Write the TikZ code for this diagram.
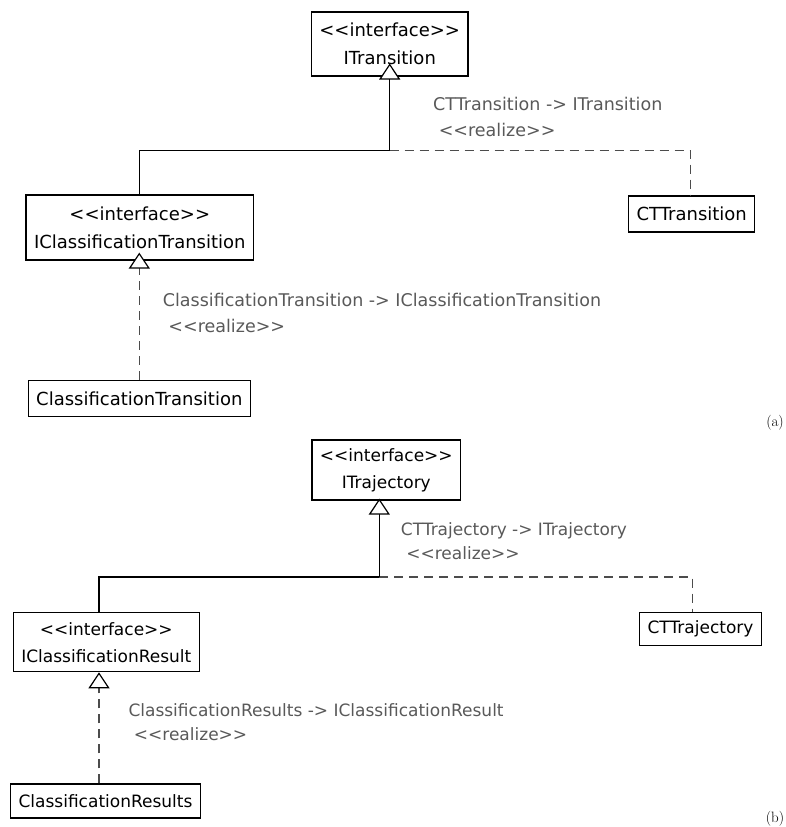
\documentclass[tikz,border=0pt]{standalone}
\usepackage{fontspec}
\newfontfamily\umlfont{DejaVu Sans}
\usetikzlibrary{arrows.meta}
\tikzset{
  iface/.style    = {rectangle, draw, line width=1.2pt, fill=white,
                     align=center, inner xsep=8pt, inner ysep=0pt},
  cls/.style      = {iface, minimum height=36pt},
  link/.style     = {line width=1.2pt},
  realize/.style  = {line width=1.2pt, black!70, dash pattern=on 9pt off 6pt},
  gen/.style      = {-{Triangle[fill=white, color=black, length=16pt, width=21pt]}},
  relabel/.style  = {anchor=west, align=left, inner sep=0pt, text=black!65},
  tag/.style      = {font=\rmfamily\fontsize{15}{17}\selectfont}
}
\begin{document}
\begin{tikzpicture}[x=1pt, y=-1pt]
  \useasboundingbox (0,0) rectangle (786,827);
  % (a) transitions
  \begin{scope}[font=\umlfont\fontsize{18}{28}\selectfont]
    \node[iface, minimum height=64pt] (itrans) at (389.7,43.9) {<<interface>>\\ITransition};
    \node[iface, minimum height=65pt] (iclasstrans) at (139.8,227.5) {<<interface>>\\IClassificationTransition};
    \node[cls] (cttrans) at (691.7,214) {CTTransition};
    \node[cls] (classtrans) at (139.3,398.3) {ClassificationTransition};
    \coordinate (junca) at (389.7,150.7);
    \coordinate (lefta) at (139.3,150.7);
    \coordinate (righta) at (690.7,150.7);
    \draw[link] (lefta |- iclasstrans.north) -- (lefta) -- (junca);
    \draw[realize] (junca) -- (righta) -- (righta |- cttrans.north);
    \draw[link, gen, shorten >=-13pt] (junca) -- (itrans.south);
    \draw[realize, gen, shorten >=-8pt] (classtrans.north) -- (classtrans.north |- iclasstrans.south);
    \node[relabel, font=\umlfont\fontsize{17.5}{26}\selectfont] (lbla) at (433,117)
      {CTTransition -> ITransition\\\ <<realize>>};
    \node[relabel, font=\umlfont\fontsize{17.5}{26}\selectfont] (lblb) at (162.7,313)
      {ClassificationTransition -> IClassificationTransition\\\ <<realize>>};
  \end{scope}
  \node[tag] (taga) at (775,423) {(a)};
  % (b) trajectories
  \begin{scope}[font=\umlfont\fontsize{17}{27}\selectfont]
    \node[iface, minimum height=60pt] (itraj) at (386.3,470) {<<interface>>\\ITrajectory};
    \node[iface, minimum height=59pt] (iclassres) at (106.3,642.2) {<<interface>>\\IClassificationResult};
    \node[cls, minimum height=33pt] (cttraj) at (700.5,629.3) {CTTrajectory};
    \node[cls, minimum height=34pt] (classres) at (105.5,801) {ClassificationResults};
    \coordinate (juncb) at (379.3,577);
    \coordinate (leftb) at (99,577);
    \coordinate (rightb) at (692.7,577);
    \draw[link] (leftb |- iclassres.north) -- (leftb) -- (juncb);
    \draw[realize] (juncb) -- (rightb) -- (rightb |- cttraj.north);
    \draw[link, gen, shorten >=-2pt] (juncb) -- (juncb |- itraj.south);
    \draw[realize, gen] (leftb |- classres.north) -- (leftb |- iclassres.south);
    \node[relabel, font=\umlfont\fontsize{17}{23.5}\selectfont] (lblc) at (400.7,541)
      {CTTrajectory -> ITrajectory\\\ <<realize>>};
    \node[relabel, font=\umlfont\fontsize{17}{23.5}\selectfont] (lbld) at (128.3,722)
      {ClassificationResults -> IClassificationResult\\\ <<realize>>};
  \end{scope}
  \node[tag] (tagb) at (775,819) {(b)};
\end{tikzpicture}
\end{document}
